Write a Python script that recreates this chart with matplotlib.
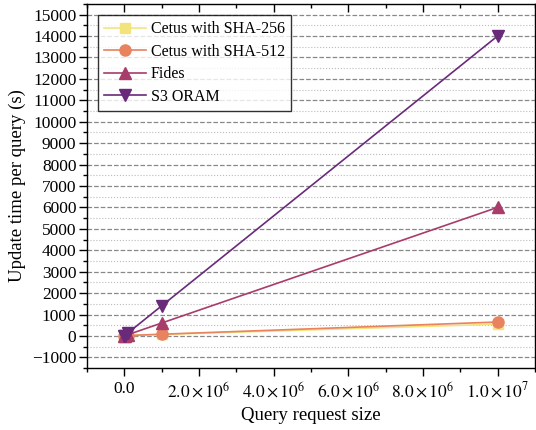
import numpy as np
import matplotlib.pyplot as plt
from matplotlib.ticker import MultipleLocator, FuncFormatter

plt.rcParams['font.family'] = ['Liberation Serif', 'DejaVu Serif']
plt.rcParams['mathtext.fontset'] = 'stix'

# data
sizes = [1e3, 1e4, 1e5, 1e6, 1e7]
cetus_256 = [1, 5, 15, 70, 550]
cetus_512 = [1, 8, 20, 80, 650]
fides = [1, 6, 60, 600, 6000]
s3_oram = [5, 15, 140, 1400, 14000]

fig = plt.figure(figsize=(5.36, 4.30), dpi=100)
ax = fig.add_axes([0.162, 0.144, 0.836, 0.847])

ax.plot(sizes, cetus_256, '-s', color='#f2e47a', ms=7, lw=1.2, label='Cetus with SHA-256', zorder=3)
ax.plot(sizes, cetus_512, '-o', color='#e8825f', ms=8, lw=1.2, label='Cetus with SHA-512', zorder=3)
ax.plot(sizes, fides, '-^', color='#a83c6a', ms=8, lw=1.2, label='Fides', zorder=3)
ax.plot(sizes, s3_oram, '-v', color='#6a2a7a', ms=8, lw=1.2, label='S3 ORAM', zorder=3)

ax.set_xlim(-1e6, 1.1e7)
ax.set_ylim(-1500, 15500)

ax.xaxis.set_major_locator(MultipleLocator(2e6))
ax.xaxis.set_minor_locator(MultipleLocator(1e6))
ax.yaxis.set_major_locator(MultipleLocator(1000))
ax.yaxis.set_minor_locator(MultipleLocator(500))


def sci(v, pos):
    if v == 0:
        return '0.0'
    e = int(np.floor(np.log10(abs(v))))
    return r'$%.1f\times10^{%d}$' % (v / 10 ** e, e)


ax.xaxis.set_major_formatter(FuncFormatter(sci))

ax.grid(axis='y', which='major', linestyle='--', color='#888888', lw=0.9)
ax.grid(axis='y', which='minor', linestyle=':', color='#bbbbbb', lw=0.8)
ax.set_axisbelow(True)

ax.tick_params(which='both', labelsize=12.5, width=1.0)
ax.tick_params(which='major', length=6)
ax.tick_params(which='minor', length=3)
ax.tick_params(axis='y', pad=1.5)
ax.tick_params(which='both', direction='out')
ax.tick_params(which='both', top=True, right=True)
# top and right ticks point inwards
for t in ax.xaxis.get_major_ticks() + ax.xaxis.get_minor_ticks():
    t.tick2line.set_marker(3)
for t in ax.yaxis.get_major_ticks() + ax.yaxis.get_minor_ticks():
    t.tick2line.set_marker(1)
for spine in ax.spines.values():
    spine.set_linewidth(1.0)

ax.set_xlabel('Query request size', fontsize=13.5, labelpad=4)
ax.set_ylabel('Update time per query (s)', fontsize=13.5, labelpad=4)

leg = ax.legend(loc='upper left', fontsize=11.5, frameon=True, fancybox=False,
                edgecolor='black', borderaxespad=0.7, handlelength=2.6,
                labelspacing=0.4, borderpad=0.4, handletextpad=0.3)
leg.get_frame().set_linewidth(1.0)

fig.savefig('out.png', dpi=100)
